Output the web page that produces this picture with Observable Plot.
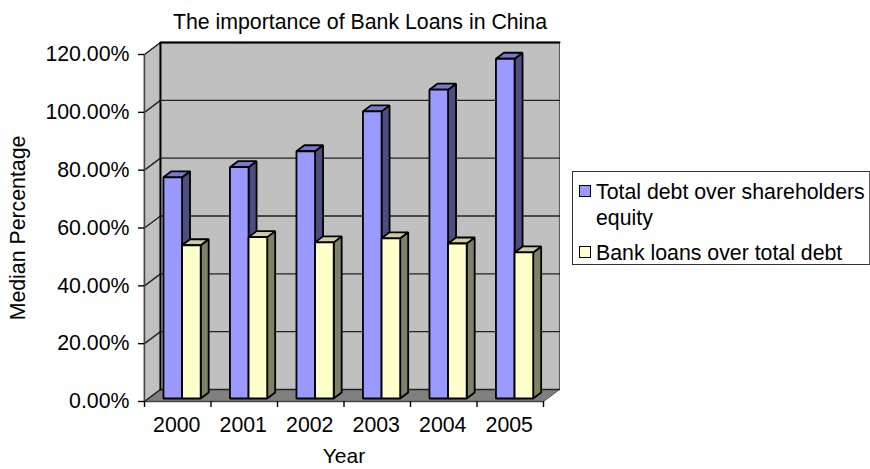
<!DOCTYPE html>
<html>
<head>
<meta charset="utf-8">
<script src="https://cdn.jsdelivr.net/npm/d3@7"></script>
<script src="https://cdn.jsdelivr.net/npm/@observablehq/plot@0.6"></script>
<style>
  html, body { margin: 0; padding: 0; background: #fff; }
  #chart { position: relative; width: 870px; height: 469px; overflow: hidden;
           font-family: "Liberation Sans", Arial, sans-serif; color: #000; }
  #title { position: absolute; left: 0; top: 9px; width: 720px; text-align: center; font-size: 21.3px; line-height: 26px; }
  #legend { position: absolute; left: 572px; top: 171px; width: 298px; height: 94px; box-sizing: border-box;
            border: 1px solid #333; border-right-color: #666; font-size: 21.3px; line-height: 26px; padding: 7px 0 0 23px; }
  #legend .row { position: relative; margin-bottom: 9px; }
  #legend i { position: absolute; left: -17px; top: 6px; width: 10px; height: 10px; border: 1.5px solid #000; box-sizing: content-box; }
</style>
</head>
<body>
<div id="chart">
  <div id="title">The importance of Bank Loans in China</div>
  <div id="legend"></div>
</div>
<script>
const years = [2000, 2001, 2002, 2003, 2004, 2005];
const debtOverEquity = [76.5, 80, 85.5, 99.3, 106.8, 117.5];
const loansOverDebt = [53, 55.8, 54, 55.4, 53.6, 50.5];
const seriesNames = ["Total debt over shareholders equity", "Bank loans over total debt"];
const yTicks = [0, 20, 40, 60, 80, 100, 120];

// Oblique projection: depth 1 moves a point right and up by these scale units.
const depthX = 0.24, depthY = 4.15;
const project = (x, y, d) => ({x: x + d * depthX, y: y + d * depthY});
const poly = (...corners) => corners.map(([x, y, d]) => project(x, y, d));
const face = (polys, fill, stroke = "#000", strokeWidth = 1.8) =>
  Plot.line(polys.flatMap((p, i) => p.map((c) => ({...c, id: i}))), {
    x: "x", y: "y", z: "id", fill, stroke, strokeWidth,
    curve: "linear-closed", strokeLinejoin: "miter"
  });

const barOffset = 0.225, barWidth = 0.28, barFront = 0.25, barBack = 0.75;

function barFaces(values, slot) {
  const front = [], side = [], top = [];
  values.forEach((v, i) => {
    const x0 = i + barOffset + slot * barWidth, x1 = x0 + barWidth;
    front.push(poly([x0, 0, barFront], [x1, 0, barFront], [x1, v, barFront], [x0, v, barFront]));
    side.push(poly([x1, 0, barFront], [x1, 0, barBack], [x1, v, barBack], [x1, v, barFront]));
    top.push(poly([x0, v, barFront], [x1, v, barFront], [x1, v, barBack], [x0, v, barBack]));
  });
  return {front, side, top};
}

const blue = barFaces(debtOverEquity, 0);
const yellow = barFaces(loansOverDebt, 1);

// Bars are painted one year at a time so that each hides what stands behind it.
const barMarks = years.flatMap((_, i) => [
  face([blue.side[i]], "#4d4d80"),
  face([blue.top[i]], "#7a7acc"),
  face([blue.front[i]], "#9999ff"),
  face([yellow.side[i]], "#808066"),
  face([yellow.top[i]], "#cccca3"),
  face([yellow.front[i]], "#ffffcc")
]);

const plot = Plot.plot({
  width: 870,
  height: 469,
  marginLeft: 144,
  marginRight: 327,
  marginTop: 54,
  marginBottom: 68,
  style: {background: "transparent", fontFamily: '"Liberation Sans", Arial, sans-serif', color: "#000", overflow: "visible"},
  x: {domain: [0, 6], range: [144, 543]},
  y: {domain: [0, 120], range: [401, 54]},
  marks: [
    // back wall, side wall and floor
    face([poly([0, 0, 1], [6, 0, 1], [6, 120, 1], [0, 120, 1])], "#c0c0c0", "#555", 1),
    face([poly([0, 0, 0], [0, 0, 1], [0, 120, 1], [0, 120, 0])], "#c0c0c0", "#555", 1),
    face([poly([0, 0, 0], [6, 0, 0], [6, 0, 1], [0, 0, 1])], "#808080", "#555", 1),
    // gridlines run along the side wall and across the back wall
    Plot.line(yTicks.flatMap((t) => poly([0, t, 0], [0, t, 1], [6, t, 1]).map((c) => ({...c, t}))), {
      x: "x", y: "y", z: "t", stroke: "#222", strokeWidth: 1.4
    }),
    Plot.line(poly([0, 0, 1], [0, 120, 1], [6, 120, 1]), {x: "x", y: "y", stroke: "#000", strokeWidth: 2}),
    ...barMarks,
    Plot.ruleX([0], {y1: 0, y2: 120, stroke: "#444", strokeWidth: 1.4}),
    Plot.ruleY([0], {x1: 0, x2: 6, stroke: "#444", strokeWidth: 1.4}),
    Plot.axisY({
      ticks: yTicks, tickSize: 6, tickPadding: 9, fontSize: 21.3,
      tickFormat: (d) => d.toFixed(2) + "%", label: null, strokeWidth: 1.4
    }),
    Plot.axisX({ticks: d3.range(7), tickSize: 6, tickFormat: () => "", label: null, strokeWidth: 1.4}),
    Plot.axisX({
      ticks: years.map((_, i) => i + 0.5), tickSize: 0, tickPadding: 15, fontSize: 21.3, dx: -1,
      tickFormat: (d) => String(years[Math.floor(d)]), label: null
    }),
    Plot.text(["Year"], {x: 3, frameAnchor: "bottom", lineAnchor: "middle", dy: 55, fontSize: 21}),
    Plot.text(["Median Percentage"], {frameAnchor: "left", textAnchor: "middle", dx: -126, rotate: -90, fontSize: 21.3})
  ]
});
document.getElementById("chart").prepend(plot);

// Legend entries with their swatches
const swatches = ["#9999ff", "#ffffcc"];
const legend = document.getElementById("legend");
seriesNames.forEach((name, i) => {
  const row = document.createElement("div");
  row.className = "row";
  const swatch = document.createElement("i");
  swatch.style.background = swatches[i];
  row.append(swatch, name);
  legend.append(row);
});
</script>
</body>
</html>
